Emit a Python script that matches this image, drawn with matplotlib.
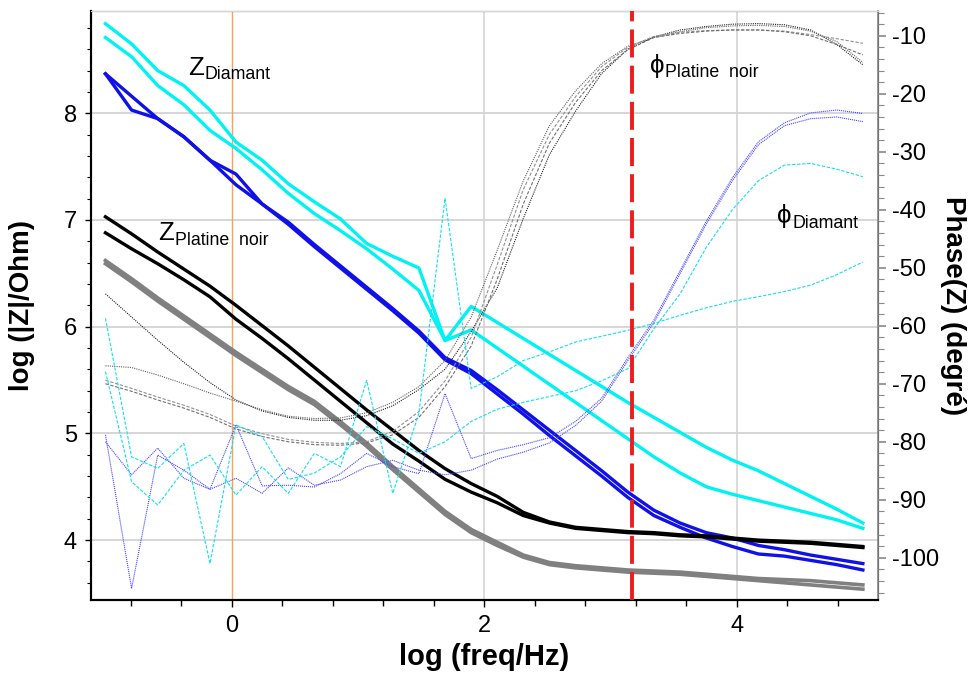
import numpy as np
import matplotlib
matplotlib.use('Agg')
import matplotlib.pyplot as plt
from matplotlib.ticker import MultipleLocator

plt.rcParams['font.family'] = ['Liberation Sans', 'DejaVu Sans']
plt.rcParams['axes.unicode_minus'] = False

# log of the measurement frequencies (30 points, -1 .. 5)
log_f = [-1.000, -0.793, -0.586, -0.379, -0.172, 0.034, 0.241, 0.448, 0.655, 0.862,
         1.069, 1.276, 1.483, 1.690, 1.897, 2.103, 2.310, 2.517, 2.724, 2.931,
         3.138, 3.345, 3.552, 3.759, 3.966, 4.172, 4.379, 4.586, 4.793, 5.000]

# log|Z| - diamant electrodes (cyan and blue)
z_dia_c1 = [8.84, 8.65, 8.40, 8.26, 8.03, 7.73, 7.56, 7.34, 7.17, 7.01, 6.78, 6.66, 6.55, 5.87, 6.19,
            6.04, 5.89, 5.74, 5.59, 5.44, 5.29, 5.15, 5.01, 4.87, 4.75, 4.65, 4.53, 4.41, 4.29, 4.16]
z_dia_c2 = [8.71, 8.53, 8.26, 8.08, 7.84, 7.67, 7.47, 7.25, 7.06, 6.90, 6.73, 6.54, 6.34, 5.87, 5.97,
            5.80, 5.63, 5.46, 5.29, 5.12, 4.95, 4.78, 4.63, 4.50, 4.43, 4.37, 4.31, 4.25, 4.19, 4.11]
z_dia_b1 = [8.37, 8.16, 7.95, 7.78, 7.56, 7.43, 7.15, 6.98, 6.77, 6.57, 6.37, 6.17, 5.96, 5.71, 5.59,
            5.41, 5.22, 5.03, 4.84, 4.65, 4.45, 4.28, 4.16, 4.07, 4.02, 3.95, 3.91, 3.86, 3.82, 3.78]
z_dia_b2 = [8.37, 8.03, 7.95, 7.78, 7.56, 7.33, 7.15, 6.96, 6.75, 6.55, 6.35, 6.15, 5.94, 5.69, 5.56,
            5.37, 5.18, 4.98, 4.79, 4.60, 4.40, 4.23, 4.12, 4.02, 3.94, 3.87, 3.85, 3.81, 3.77, 3.72]

# log|Z| - platine noir electrodes (black and grey)
z_pt_k1 = [7.03, 6.87, 6.70, 6.54, 6.38, 6.20, 6.01, 5.82, 5.62, 5.42, 5.22, 5.03, 4.84, 4.67, 4.53,
           4.41, 4.26, 4.17, 4.12, 4.10, 4.08, 4.07, 4.05, 4.04, 4.02, 4.00, 3.99, 3.98, 3.96, 3.94]
z_pt_k2 = [6.88, 6.73, 6.59, 6.44, 6.28, 6.07, 5.89, 5.70, 5.50, 5.30, 5.10, 4.90, 4.74, 4.57, 4.45,
           4.35, 4.23, 4.16, 4.11, 4.09, 4.07, 4.06, 4.04, 4.03, 4.01, 3.99, 3.98, 3.97, 3.95, 3.93]
z_pt_g1 = [6.62, 6.45, 6.27, 6.10, 5.93, 5.76, 5.60, 5.44, 5.30, 5.11, 4.91, 4.69, 4.48, 4.27, 4.10,
           3.98, 3.86, 3.79, 3.76, 3.74, 3.72, 3.71, 3.70, 3.68, 3.66, 3.64, 3.63, 3.62, 3.60, 3.58]
z_pt_g2 = [6.59, 6.42, 6.24, 6.07, 5.90, 5.73, 5.57, 5.41, 5.27, 5.08, 4.88, 4.66, 4.45, 4.24, 4.07,
           3.95, 3.84, 3.77, 3.74, 3.72, 3.70, 3.69, 3.68, 3.66, 3.64, 3.62, 3.60, 3.58, 3.56, 3.54]

# phase (degrees) - diamant
ph_dia_b1 = [-78.8, -105.3, -82.3, -84.9, -88.2, -77.1, -87.6, -87.5, -87.8, -85.5, -82.0, -84.3, -85.5, -71.7, -82.9,
             -81.5, -80.5, -79.3, -76.5, -72.5, -65.5, -59.0, -50.5, -42.0, -34.5, -28.3, -25.0, -23.3, -22.8, -23.4]
ph_dia_b2 = [-80.0, -85.7, -81.1, -86.3, -88.2, -86.3, -88.9, -84.5, -87.5, -86.6, -84.3, -83.2, -84.9, -85.7, -84.9,
             -83.0, -81.8, -80.2, -77.2, -73.0, -66.0, -59.5, -51.0, -42.5, -35.0, -28.8, -25.5, -24.3, -24.0, -24.8]
ph_dia_c1 = [-58.7, -82.6, -84.6, -80.3, -101.0, -77.1, -79.1, -86.5, -85.4, -82.6, -77.4, -79.5, -82.0, -80.0, -76.5,
             -74.4, -73.2, -72.2, -71.2, -69.5, -67.4, -60.5, -54.5, -46.5, -40.0, -35.0, -32.3, -32.0, -33.0, -34.3]
ph_dia_c2 = [-67.9, -86.9, -90.9, -84.9, -82.3, -89.2, -84.3, -88.9, -82.0, -84.3, -69.4, -88.9, -75.1, -38.0, -70.8,
             -68.8, -66.0, -64.5, -62.8, -61.8, -60.8, -59.6, -58.2, -56.9, -55.8, -55.0, -54.1, -53.0, -51.2, -49.0]

# phase (degrees) - platine noir
ph_pt_a = [-54.5, -58.5, -62.5, -66.3, -69.8, -72.8, -74.7, -75.8, -76.3, -76.3, -75.5, -73.8, -71.0, -67.5, -61.0,
           -53.5, -41.5, -30.5, -23.0, -16.5, -12.3, -10.2, -9.0, -8.4, -8.0, -7.9, -8.1, -9.0, -11.5, -15.0]
ph_pt_b = [-66.9, -67.2, -68.5, -70.0, -71.6, -73.0, -74.5, -75.6, -76.0, -75.9, -75.0, -73.2, -70.5, -66.0, -58.5,
           -47.0, -35.0, -25.5, -19.5, -14.8, -11.8, -10.3, -9.3, -8.6, -8.3, -8.2, -8.4, -9.2, -11.0, -14.6]
ph_pt_c1 = [-69.4, -70.8, -72.3, -73.7, -75.3, -77.3, -78.6, -79.6, -80.1, -80.3, -80.0, -78.2, -74.8, -69.5, -62.0,
            -49.5, -36.5, -27.0, -20.5, -15.3, -12.0, -10.1, -9.4, -9.1, -9.0, -9.0, -9.2, -9.8, -10.5, -11.3]
ph_pt_c2 = [-70.0, -71.3, -72.8, -74.2, -75.8, -77.8, -79.1, -80.0, -80.5, -80.6, -80.2, -78.8, -75.8, -70.5, -63.5,
            -52.0, -39.0, -28.5, -21.5, -16.0, -12.4, -10.3, -9.6, -9.2, -9.0, -9.0, -9.3, -10.0, -11.5, -13.3]

f_cut = 3.171  # red marker

fig = plt.figure(figsize=(9.71, 6.75), dpi=100)
ax = fig.add_axes([0.0934, 0.111, 0.8111, 0.8726])
ax2 = ax.twinx()

# grid / reference lines
for yv in [4, 5, 6, 7, 8]:
    ax.axhline(yv, color='#cfcfcf', lw=1.2, zorder=0)
for xv in [2, 4]:
    ax.axvline(xv, color='#d4d4d4', lw=1.2, zorder=0)
ax.axvline(0, color='#f2a35e', lw=1.0, zorder=0)

# impedance modulus
ax.plot(log_f, z_dia_c1, color='#00f2f2', lw=2.4)
ax.plot(log_f, z_dia_c2, color='#00f2f2', lw=2.4)
ax.plot(log_f, z_dia_b1, color='#1010e8', lw=2.4)
ax.plot(log_f, z_dia_b2, color='#1010e8', lw=2.4)
ax.plot(log_f, z_pt_k1, color='black', lw=2.4)
ax.plot(log_f, z_pt_k2, color='black', lw=2.4)
ax.plot(log_f, z_pt_g1, color='#808080', lw=2.6)
ax.plot(log_f, z_pt_g2, color='#808080', lw=2.6)

# phase
ax2.plot(log_f, ph_pt_a, color='#202020', lw=0.8, ls=(0, (1, 1)))
ax2.plot(log_f, ph_pt_b, color='#606060', lw=0.8, ls=(0, (1, 1)))
ax2.plot(log_f, ph_pt_c1, color='#909090', lw=0.8, ls=(0, (3, 1.5)))
ax2.plot(log_f, ph_pt_c2, color='#707070', lw=0.8, ls=(0, (3, 1.5)))
ax2.plot(log_f, ph_dia_b1, color='#4848ff', lw=0.8, ls=(0, (1, 0.8)))
ax2.plot(log_f, ph_dia_b2, color='#4848ff', lw=0.8, ls=(0, (1, 0.8)))
ax2.plot(log_f, ph_dia_c1, color='#10e0f0', lw=0.8, ls=(0, (3, 1.5)))
ax2.plot(log_f, ph_dia_c2, color='#10e0f0', lw=0.8, ls=(0, (3, 1.5)))

ax2.axvline(f_cut, color='#ee1c1c', lw=2.8, ls=(0, (7.2, 2.1)), zorder=10)

ax.set_xlim(-1.117, 5.122)
ax.set_ylim(3.438, 8.958)
ax2.set_ylim(-107.3, -5.74)

ax.set_xticks([0, 2, 4])
ax.xaxis.set_minor_locator(MultipleLocator(0.4))
ax.set_yticks([4, 5, 6, 7, 8])
ax.yaxis.set_minor_locator(MultipleLocator(0.2))
ax2.set_yticks(np.arange(-100, -9, 10))
ax2.yaxis.set_minor_locator(MultipleLocator(2))

ax.tick_params(axis='x', which='major', length=5, width=1, labelsize=17, pad=6)
ax.tick_params(axis='x', which='minor', length=4, width=1)
ax.tick_params(axis='y', which='major', length=4, width=1, labelsize=17, pad=6)
ax.tick_params(axis='y', which='minor', length=3, width=0.8)
ax2.tick_params(axis='y', which='major', length=6, width=1.2, color='#888888', labelsize=17, pad=4)
ax2.tick_params(axis='y', which='minor', length=4, width=0.8, color='#888888')

for s in ['left', 'bottom']:
    ax.spines[s].set_linewidth(1.5)
ax2.spines['right'].set_color('#888888')
ax2.spines['right'].set_linewidth(1.2)
ax2.spines['top'].set_color('#d8d8d8')
ax2.spines['left'].set_linewidth(1.5)
ax2.spines['bottom'].set_linewidth(1.5)

ax.set_xlabel('log (freq/Hz)', fontsize=21, fontweight='bold', va='top')
ax.xaxis.set_label_coords(0.5, -0.073)
ax.set_ylabel('log (|Z|/Ohm)', fontsize=20, fontweight='bold')
ax.yaxis.set_label_coords(-0.071, 0.5)
ax2.set_ylabel('Phase(Z) (degré)', fontsize=20, fontweight='bold', rotation=270, va='center')
ax2.yaxis.set_label_coords(1.095, 0.5)


def label(axis, x, y, main, sub):
    t = axis.text(x, y, main, fontsize=18.5, va='baseline')
    axis.annotate(sub, xy=(1, 0), xycoords=t, xytext=(0.5, -2.5),
                  textcoords='offset points', fontsize=12.8, va='bottom')


label(ax, -0.346, 8.36, 'Z', 'Diamant')
label(ax, -0.581, 6.81, 'Z', 'Platine  noir')
label(ax2, 3.314, -16.4, 'ϕ', 'Platine  noir')
label(ax2, 4.322, -42.3, 'ϕ', 'Diamant')

fig.savefig('out.png', dpi=100)
